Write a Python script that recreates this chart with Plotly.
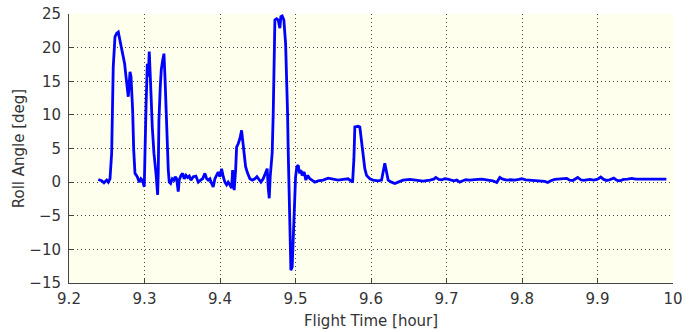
import plotly.graph_objects as go

flight_time_hr = [
    9.2388, 9.2433, 9.2463, 9.2499, 9.2520, 9.2543, 9.2565, 9.2579, 9.2586, 9.2609,
    9.2631, 9.2653, 9.2666, 9.2698, 9.2719, 9.2737, 9.2755, 9.2772, 9.2785, 9.2798,
    9.2808, 9.2821, 9.2834, 9.2843, 9.2857, 9.2874, 9.2904, 9.2931, 9.2953, 9.2976,
    9.2997, 9.3006, 9.3019, 9.3037, 9.3050, 9.3063, 9.3076, 9.3086, 9.3103, 9.3125,
    9.3152, 9.3174, 9.3182, 9.3191, 9.3209, 9.3222, 9.3240, 9.3258, 9.3271, 9.3284,
    9.3297, 9.3315, 9.3328, 9.3346, 9.3368, 9.3390, 9.3407, 9.3426, 9.3447, 9.3460,
    9.3483, 9.3505, 9.3526, 9.3549, 9.3571, 9.3593, 9.3615, 9.3646, 9.3681, 9.3712,
    9.3743, 9.3770, 9.3800, 9.3823, 9.3844, 9.3867, 9.3889, 9.3910, 9.3933, 9.3955,
    9.3976, 9.3999, 9.4021, 9.4043, 9.4065, 9.4088, 9.4109, 9.4131, 9.4154, 9.4167,
    9.4188, 9.4207, 9.4220, 9.4241, 9.4264, 9.4286, 9.4299, 9.4317, 9.4339, 9.4366,
    9.4396, 9.4427, 9.4462, 9.4489, 9.4515, 9.4542, 9.4572, 9.4604, 9.4625, 9.4638,
    9.4652, 9.4665, 9.4683, 9.4691, 9.4705, 9.4714, 9.4727, 9.4750, 9.4771, 9.4793,
    9.4806, 9.4824, 9.4846, 9.4869, 9.4882, 9.4895, 9.4903, 9.4912, 9.4922, 9.4930,
    9.4939, 9.4956, 9.4969, 9.4983, 9.5001, 9.5018, 9.5036, 9.5054, 9.5071, 9.5088,
    9.5115, 9.5137, 9.5160, 9.5190, 9.5221, 9.5257, 9.5300, 9.5366, 9.5433, 9.5499,
    9.5565, 9.5631, 9.5697, 9.5756, 9.5773, 9.5786, 9.5809, 9.5830, 9.5852, 9.5875,
    9.5896, 9.5918, 9.5941, 9.5985, 9.6028, 9.6095, 9.6140, 9.6161, 9.6183, 9.6206,
    9.6227, 9.6272, 9.6316, 9.6359, 9.6426, 9.6514, 9.6603, 9.6690, 9.6779,
    9.6832, 9.6858, 9.6898, 9.6938, 9.6978, 9.7017, 9.7057, 9.7097, 9.7136, 9.7176,
    9.7216, 9.7256, 9.7308, 9.7361, 9.7414, 9.7467, 9.7520, 9.7573, 9.7613, 9.7666,
    9.7706, 9.7745, 9.7798, 9.7851, 9.7904, 9.7957, 9.7997, 9.8050, 9.8103, 9.8156,
    9.8209, 9.8262, 9.8301, 9.8341, 9.8381, 9.8434, 9.8487, 9.8540, 9.8593, 9.8632,
    9.8672, 9.8712, 9.8738, 9.8778, 9.8818, 9.8857, 9.8897, 9.8950, 9.9003, 9.9043,
    9.9082, 9.9122, 9.9162, 9.9215, 9.9254, 9.9294, 9.9347, 9.9400, 9.9453, 9.9506,
    9.9625, 9.9757, 9.9912,
]

roll_angle_deg = [
    0.4, 0.2, -0.1, 0.3, 0.0, 0.5, 4.3, 11.7, 17.1, 21.6,
    22.1, 22.3, 21.6, 20.1, 18.6, 17.6, 15.7, 14.2, 12.7, 14.7,
    16.4, 15.7, 13.2, 10.7, 4.8, 1.3, 0.8, 0.0, 0.5, 0.2,
    -0.7, 4.8, 10.7, 17.6, 15.7, 19.4, 16.7, 13.2, 8.2, 4.3,
    1.3, -1.9, 1.3, 9.2, 14.2, 16.7, 18.1, 19.1, 15.7, 10.7,
    5.2, 1.8, 0.0, -0.2, 0.5, 0.3, 0.8, 0.5, -1.4, 0.3,
    1.0, 1.3, 0.5, 1.0, 0.7, 0.9, 0.3, 0.8, 0.9, 0.0,
    0.3, 0.5, 1.3, 0.5, 0.3, 0.5, -0.2, -0.7, 0.5, 1.0,
    1.5, 0.8, 2.0, 0.8, 0.0, -0.4, 0.0, -0.4, -0.9, 1.8,
    -1.2, 1.8, 5.2, 5.7, 6.5, 7.7, 6.2, 4.3, 2.3, 1.3,
    0.5, 0.3, 0.5, 0.8, 0.3, 0.0, 0.5, 1.3, 2.0, -0.7,
    -2.4, 0.8, 3.3, 4.3, 10.2, 20.1, 24.1, 24.3, 24.1, 22.9,
    24.6, 24.7, 24.1, 20.6, 16.2, 10.2, 4.8, -0.2, -6.6, -11.1,
    -13.1, -12.6, -9.1, -4.2, 0.8, 2.3, 2.5, 1.3, 1.8, 1.0,
    1.5, 0.3, 1.0, 0.5, 0.3, 0.0, 0.2, 0.3, 0.6, 0.5,
    0.3, 0.4, 0.5, 0.0, 3.3, 8.2, 8.3, 8.3, 8.2, 5.8,
    3.3, 2.0, 1.0, 0.5, 0.3, 0.2, 0.3, 1.5, 2.8, 1.5,
    0.3, 0.0, -0.2, 0.0, 0.3, 0.4, 0.3, 0.15, 0.3,
    0.45, 0.7, 0.4, 0.35, 0.5, 0.45, 0.3, 0.2, 0.3, 0.0,
    0.2, 0.35, 0.3, 0.3, 0.4, 0.45, 0.35, 0.3, 0.2, -0.05,
    0.7, 0.45, 0.3, 0.35, 0.3, 0.4, 0.5, 0.35, 0.3, 0.25,
    0.25, 0.2, 0.1, -0.05, 0.2, 0.4, 0.45, 0.4, 0.55, 0.3,
    0.25, 0.5, 0.7, 0.35, 0.25, 0.35, 0.4, 0.3, 0.45, 0.75,
    0.4, 0.25, 0.35, 0.6, 0.3, 0.2, 0.4, 0.45, 0.55, 0.45,
    0.45, 0.45, 0.45,
]

x_ticks = [9.2, 9.3, 9.4, 9.5, 9.6, 9.7, 9.8, 9.9, 10]
x_tick_labels = ["9.2", "9.3", "9.4", "9.5", "9.6", "9.7", "9.8", "9.9", "10"]
y_ticks = [-15, -10, -5, 0, 5, 10, 15, 20, 25]

fig = go.Figure()
fig.add_trace(go.Scatter(
    x=flight_time_hr, y=roll_angle_deg, mode="lines",
    line=dict(color="#0000FF", width=2.8), showlegend=False,
))

font = dict(family="DejaVu Sans", size=15, color="#333333")
axis_common = dict(
    showline=True, linecolor="#444444", linewidth=1,
    ticks="inside", ticklen=5, tickcolor="#444444",
    showgrid=True, gridcolor="#444444", gridwidth=1, griddash="1px,3px",
    zeroline=False, mirror=False, tickfont=font, automargin=False,
)

fig.update_layout(
    width=696, height=332,
    margin=dict(l=69, r=23, t=14, b=49),
    paper_bgcolor="white", plot_bgcolor="#FFFFEE",
    font=font,
    xaxis=dict(range=[9.2, 10], tickvals=x_ticks, ticktext=x_tick_labels,
               ticklabelstandoff=2,
               title=dict(text="Flight Time [hour]", font=font, standoff=8),
               **axis_common),
    yaxis=dict(range=[-15, 25], tickvals=y_ticks, ticklabelstandoff=4,
               title=dict(text="Roll Angle [deg]", font=font, standoff=1),
               **axis_common),
)

fig.write_html("out.html")
